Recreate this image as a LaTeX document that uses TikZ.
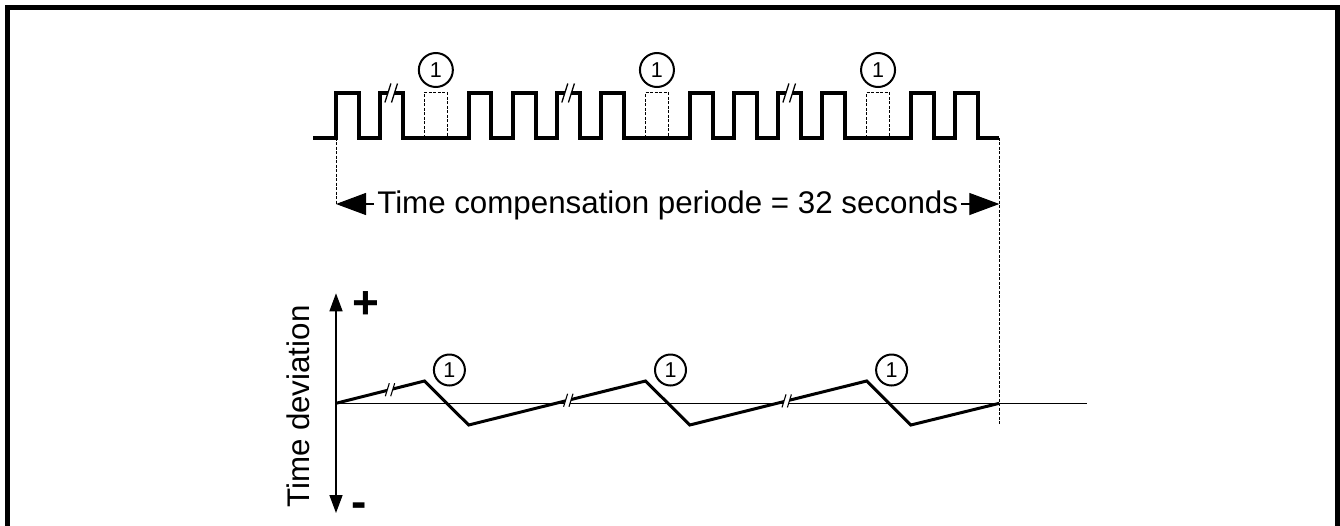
\documentclass[tikz,border=0pt]{standalone}
\usepackage{fontspec}
\setmainfont{Liberation Sans}
\usetikzlibrary{arrows.meta}
\newcommand\brkmark[6]{% x y a h d linewidth
  \fill[white] ({#1-#5-#3},{#2+#4}) -- ({#1-#5+#3},{#2-#4}) -- ({#1+#5+#3},{#2-#4}) -- ({#1+#5-#3},{#2+#4}) -- cycle;
  \draw[line width=#6] ({#1-#5-#3},{#2+#4}) -- ({#1-#5+#3},{#2-#4});
  \draw[line width=#6] ({#1+#5-#3},{#2+#4}) -- ({#1+#5+#3},{#2-#4});
}
\begin{document}
\begin{tikzpicture}[x=1pt,y=-1pt,
  frame/.style={line width=5pt, line join=miter},
  pulse/.style={line width=4pt, line join=miter},
  saw/.style={line width=3pt, line join=miter},
  thindash/.style={line width=0.9pt, dash pattern=on 3pt off 1.5pt},
  numtext/.style={inner sep=0pt, font=\fontsize{21.5}{21.5}\selectfont},
  ring/.style={line width=2pt},
  bigtext/.style={font=\fontsize{31.3}{36}\selectfont, inner sep=0pt},
  signtext/.style={font=\fontsize{46}{46}\selectfont\bfseries, inner sep=0pt, anchor=base},
  bigarrow/.style={line width=1.2pt, -{Triangle[length=30pt,width=22pt]}},
  axisarrow/.style={line width=1.5pt, {Triangle[length=18pt,width=13pt]}-{Triangle[length=18pt,width=13pt]}},
]
\useasboundingbox (0,0) rectangle (1340,525);
% frame (open at the bottom)
\draw[frame] (7,530) -- (7,7.5) -- (1337.5,7.5) -- (1337.5,530);

% named coordinates
\coordinate (p0) at (336,137.7);
\coordinate (pend) at (999.3,137.7);
\coordinate (a0) at (336,204);
\coordinate (aend) at (999.3,204);
\coordinate (ax0) at (336,403.3);
\coordinate (axtop) at (336,293.3);
\coordinate (axbot) at (336,513);
\coordinate (zend) at (1086.7,403.3);
\coordinate (dend) at (999.3,425);

% dashed vertical guides
\draw[thindash] (p0) -- (a0);
\draw[thindash] (pend) -- (dend);

% dashed missing pulses
\foreach \x in {424.44,645.54,866.64} {
  \draw[thindash] (\x,137.7) -- (\x,92.7) -- ++(22.8,0) -- ++(0,45);
}

% pulse train
\draw[pulse] (313,137.7)
  \foreach \x in {336,380.22,468.66,512.88,557.10,601.32,689.76,733.98,778.20,822.42,910.86,955.08} {
    -- (\x,137.7) -- (\x,92.7) -- ++(22.8,0) -- ++(0,45)
  } -- (pend);

% break marks on the pulse train
\brkmark{391.2}{93}{3}{9.5}{3.3}{1.3pt}
\brkmark{568.1}{93}{3}{9.5}{3.3}{1.3pt}
\brkmark{789.2}{93}{3}{9.5}{3.3}{1.3pt}

% circled numbers above missing pulses
\node[numtext] (c1) at (435.84,70) {1};
\node[numtext] (c2) at (656.94,70) {1};
\node[numtext] (c3) at (878.04,70) {1};
\foreach \n in {c1,c2,c3} \draw[ring] (\n.center) circle[radius=17];

% period arrow with text
\node[bigtext, anchor=base, inner xsep=3pt] (tc) at (667.7,213.5) {Time compensation periode = 32 seconds};
\draw[bigarrow] (tc.west |- a0) -- (a0);
\draw[bigarrow] (tc.east |- aend) -- (aend);

% lower graph: axis and zero line
\draw[axisarrow] (axbot) -- (axtop);
\draw[line width=1.3pt] (ax0) -- (zend);
\node[signtext] (plus) at (366,318.3) {+};
\node[signtext] (minus) at (359.5,517) {-};
\node[bigtext, rotate=90, anchor=base] (td) at (309.5,406.7) {Time deviation};

% sawtooth
\draw[saw] (ax0) -- (424.44,381) -- (468.66,425) -- (645.54,381) -- (689.76,425)
  -- (866.64,381) -- (910.86,425) -- (999.3,403.3);

% break marks on the sawtooth
\brkmark{390}{389.7}{2}{6.5}{2.7}{1.1pt}
\brkmark{568.3}{400.2}{2}{6.5}{2.7}{1.1pt}
\brkmark{786.7}{400.9}{2}{6.5}{2.7}{1.1pt}

% circled numbers next to the peaks
\node[numtext] (d1) at (449.4,370) {1};
\node[numtext] (d2) at (670.5,370) {1};
\node[numtext] (d3) at (891.6,370) {1};
\foreach \n in {d1,d2,d3} \draw[ring] (\n.center) circle[radius=15.5];
\end{tikzpicture}
\end{document}
